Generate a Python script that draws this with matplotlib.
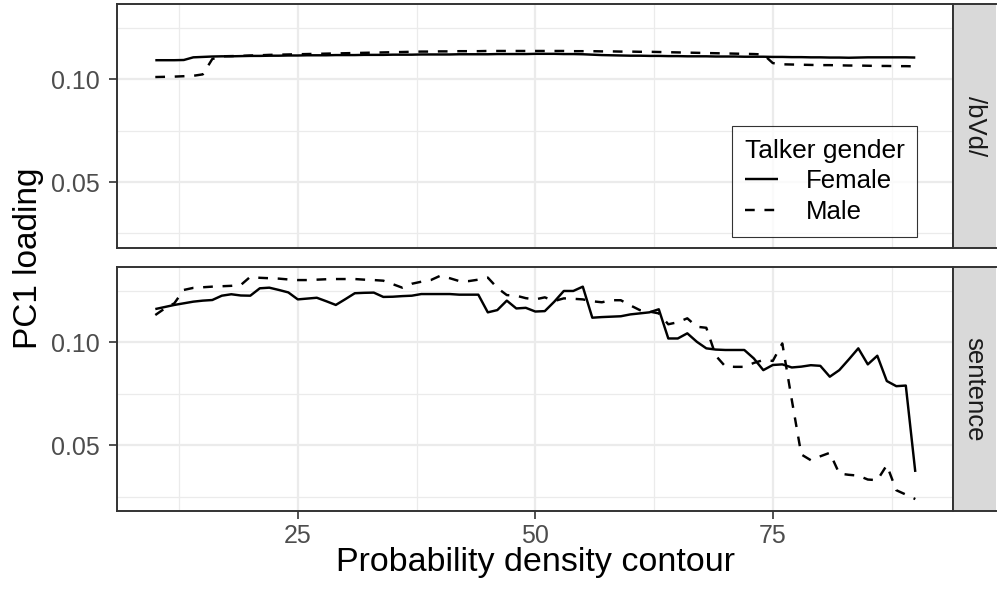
import matplotlib
matplotlib.use("Agg")
import matplotlib.pyplot as plt
from matplotlib.ticker import FixedLocator

plt.rcParams["font.family"] = ["Liberation Sans", "DejaVu Sans"]

contour = list(range(10, 91))

bvd_female = [
    0.1094, 0.1094, 0.1094, 0.1095, 0.1108, 0.1110, 0.1112, 0.1113, 0.1113, 0.1114,
    0.1115, 0.1115, 0.1116, 0.1116, 0.1117, 0.1117, 0.1118, 0.1118, 0.1118, 0.1119,
    0.1119, 0.1119, 0.1120, 0.1120, 0.1120, 0.1121, 0.1121, 0.1121, 0.1122, 0.1122,
    0.1122, 0.1122, 0.1123, 0.1123, 0.1123, 0.1123, 0.1124, 0.1124, 0.1124, 0.1124,
    0.1125, 0.1125, 0.1125, 0.1124, 0.1124, 0.1123, 0.1121, 0.1119, 0.1118, 0.1117,
    0.1116, 0.1116, 0.1115, 0.1115, 0.1114, 0.1114, 0.1113, 0.1113, 0.1113, 0.1112,
    0.1112, 0.1112, 0.1111, 0.1111, 0.1111, 0.1110, 0.1110, 0.1109, 0.1109, 0.1108,
    0.1108, 0.1107, 0.1107, 0.1106, 0.1107, 0.1108, 0.1108, 0.1108, 0.1108, 0.1108,
    0.1107,
]
bvd_male = [
    0.1012, 0.1013, 0.1014, 0.1016, 0.1018, 0.1025, 0.1100, 0.1113, 0.1114, 0.1115,
    0.1117, 0.1118, 0.1120, 0.1121, 0.1122, 0.1123, 0.1124, 0.1125, 0.1126, 0.1127,
    0.1128, 0.1129, 0.1130, 0.1131, 0.1132, 0.1133, 0.1134, 0.1135, 0.1136, 0.1136,
    0.1137, 0.1137, 0.1138, 0.1138, 0.1138, 0.1139, 0.1139, 0.1139, 0.1139, 0.1139,
    0.1139, 0.1139, 0.1139, 0.1139, 0.1138, 0.1138, 0.1138, 0.1137, 0.1137, 0.1136,
    0.1136, 0.1135, 0.1135, 0.1134, 0.1133, 0.1132, 0.1131, 0.1130, 0.1129, 0.1128,
    0.1127, 0.1126, 0.1125, 0.1124, 0.1122, 0.1080, 0.1074, 0.1073, 0.1072, 0.1071,
    0.1070, 0.1070, 0.1069, 0.1068, 0.1068, 0.1067, 0.1066, 0.1066, 0.1065, 0.1065,
    0.1064,
]
sentence_female = [
    0.1162, 0.1172, 0.1182, 0.1190, 0.1198, 0.1203, 0.1206, 0.1227, 0.1234, 0.1228,
    0.1227, 0.1263, 0.1266, 0.1255, 0.1243, 0.1209, 0.1213, 0.1217, 0.1200, 0.1182,
    0.1210, 0.1239, 0.1241, 0.1242, 0.1221, 0.1222, 0.1225, 0.1227, 0.1235, 0.1235,
    0.1235, 0.1235, 0.1232, 0.1232, 0.1232, 0.1146, 0.1157, 0.1203, 0.1165, 0.1168,
    0.1150, 0.1152, 0.1198, 0.1250, 0.1250, 0.1271, 0.1120, 0.1123, 0.1125, 0.1127,
    0.1136, 0.1141, 0.1146, 0.1161, 0.1019, 0.1019, 0.1044, 0.1003, 0.0971, 0.0965,
    0.0963, 0.0963, 0.0963, 0.0922, 0.0865, 0.0890, 0.0893, 0.0878, 0.0882, 0.0889,
    0.0886, 0.0833, 0.0865, 0.0917, 0.0971, 0.0893, 0.0935, 0.0812, 0.0787, 0.0790,
    0.0370,
]
sentence_male = [
    0.1133, 0.1165, 0.1190, 0.1255, 0.1265, 0.1268, 0.1271, 0.1273, 0.1275, 0.1279,
    0.1319, 0.1314, 0.1312, 0.1310, 0.1306, 0.1303, 0.1303, 0.1305, 0.1307, 0.1308,
    0.1308, 0.1308, 0.1305, 0.1303, 0.1300, 0.1283, 0.1266, 0.1285, 0.1295, 0.1303,
    0.1324, 0.1312, 0.1298, 0.1298, 0.1305, 0.1315, 0.1265, 0.1230, 0.1227, 0.1215,
    0.1209, 0.1219, 0.1201, 0.1214, 0.1212, 0.1209, 0.1200, 0.1195, 0.1205, 0.1205,
    0.1180, 0.1157, 0.1150, 0.1141, 0.1088, 0.1098, 0.1117, 0.1076, 0.1071, 0.0935,
    0.0883, 0.0881, 0.0881, 0.0900, 0.0914, 0.0910, 0.0995, 0.0720, 0.0455, 0.0427,
    0.0446, 0.0463, 0.0362, 0.0356, 0.0352, 0.0333, 0.0330, 0.0403, 0.0281, 0.0260,
    0.0238,
]

facets = ["/bVd/", "sentence"]
genders = ["Female", "Male"]
x_major = [25, 50, 75]
x_minor = [12.5, 37.5, 62.5, 87.5]
y_major = [0.05, 0.10]
y_minor = [0.025, 0.075, 0.125]

W, H = 997, 590
fig = plt.figure(figsize=(W / 100, H / 100), dpi=100)

left, right = 117.3, 953.3
strip_right = 996.0
panels = [(4.0, 247.7), (266.7, 511.0)]

border_col = "#333333"
grid_col = "#EBEBEB"
styles = {"Female": dict(linestyle="-"), "Male": dict(linestyle=(0, (4, 4)))}
series = {
    "/bVd/": {"Female": bvd_female, "Male": bvd_male},
    "sentence": {"Female": sentence_female, "Male": sentence_male},
}

axes = []
for i, (facet, (top, bot)) in enumerate(zip(facets, panels)):
    ax = fig.add_axes([left / W, 1 - bot / H, (right - left) / W, (bot - top) / H])
    ax.set_xlim(6, 94)
    ax.set_ylim(0.018, 0.1368)
    ax.xaxis.set_major_locator(FixedLocator(x_major))
    ax.xaxis.set_minor_locator(FixedLocator(x_minor))
    ax.yaxis.set_major_locator(FixedLocator(y_major))
    ax.yaxis.set_minor_locator(FixedLocator(y_minor))
    ax.grid(which="major", color=grid_col, linewidth=1.6)
    ax.grid(which="minor", color=grid_col, linewidth=0.9)
    ax.set_axisbelow(True)
    ax.set_yticklabels(["0.05", "0.10"])
    ax.tick_params(which="major", length=5.5, width=1.2, color=border_col,
                   labelsize=18, labelcolor="#4D4D4D")
    ax.tick_params(axis="x", pad=4.0)
    ax.tick_params(axis="y", pad=7.0)
    ax.tick_params(which="minor", length=0)
    for sp in ax.spines.values():
        sp.set_color(border_col)
        sp.set_linewidth(1.4)
    for g in genders:
        ax.plot(contour, series[facet][g], color="black", linewidth=1.75,
                solid_capstyle="butt", dash_capstyle="butt", label=g, **styles[g])
    if i == 0:
        ax.tick_params(axis="x", labelbottom=False, length=0)
    else:
        ax.set_xticklabels(["25", "50", "75"])

    sax = fig.add_axes([right / W, 1 - bot / H, (strip_right - right) / W, (bot - top) / H])
    sax.set_facecolor("#D9D9D9")
    sax.set_xticks([])
    sax.set_yticks([])
    for sp in sax.spines.values():
        sp.set_color(border_col)
        sp.set_linewidth(1.4)
    sax.spines["right"].set_visible(False)
    sax.text(0.5, 0.5, facet, rotation=-90, ha="center", va="center",
             fontsize=18.5, color="#1A1A1A", transform=sax.transAxes)
    axes.append(ax)

fig.text(0.5 * (left + right) / W, 1 - 562 / H, "Probability density contour",
         ha="center", va="center", fontsize=24.5)
fig.text(28 / W, 1 - 258 / H, "PC1 loading", rotation=90,
         ha="center", va="center", fontsize=24)

leg = axes[0].legend(
    title="Talker gender", loc="upper left",
    bbox_to_anchor=(731.7 / W, 1 - 126 / H), bbox_transform=fig.transFigure,
    borderaxespad=0, frameon=True, fancybox=False, fontsize=18.5,
    title_fontsize=19, handlelength=1.3, handletextpad=1.1,
    labelspacing=0.25, borderpad=0.5, alignment="left",
)
leg.get_frame().set_edgecolor("black")
leg.get_frame().set_linewidth(0.8)

fig.savefig("out.png", dpi=100)
